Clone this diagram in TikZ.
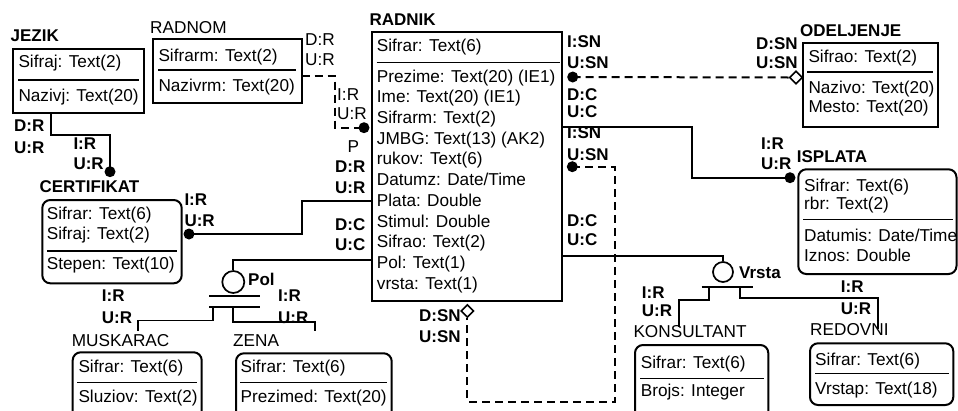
\documentclass[tikz,border=0pt]{standalone}
\usepackage{fontspec}
\setmainfont{Liberation Sans}
\usetikzlibrary{fit,shapes.geometric}
\tikzset{
 ebox/.style={draw, line width=2pt, inner sep=0pt},
 rbox/.style={ebox, rounded corners=8pt},
 tx/.style={anchor=base west, inner sep=0pt, font=\fontsize{17.2}{20}\selectfont},
 lb/.style={anchor=base west, inner sep=0pt, font=\fontsize{17}{20}\selectfont\bfseries},
 conn/.style={line width=1.7pt},
 dconn/.style={line width=2pt, dash pattern=on 8pt off 5pt},
 divl/.style={line width=1.6pt},
 dotc/.style={circle, fill, inner sep=0pt, minimum size=11pt},
 dia/.style={diamond, draw, fill=white, line width=1.6pt, inner sep=0pt, minimum width=13pt, minimum height=13pt},
 catc/.style={circle, draw, line width=1.7pt, inner sep=0pt},
}
\begin{document}
\begin{tikzpicture}[x=1pt,y=-1pt]
\useasboundingbox (0,0) rectangle (958,410);
\clip (0,0) rectangle (958,410);

% ---------- JEZIK
\node[lb] (tjezik) at (10.5,41.7) {JEZIK};
\node[ebox, fit={(12.7,49.3) (144,113.3)}] (jezik) {};
\draw[divl] (18,80) -- (139,80);
\node[tx] (j1) at (18.3,67.7) {Sifraj: Text(2)};
\node[tx] (j2) at (18.3,101) {Nazivj: Text(20)};

% ---------- RADNOM
\node[tx] (tradnom) at (150,33.3) {RADNOM};
\node[ebox, fit={(153,39.3) (301.7,102.7)}] (radnom) {};
\draw[divl] (158,70) -- (296,70);
\node[tx] (rm1) at (158.3,61) {Sifrarm: Text(2)};
\node[tx] (rm2) at (158.3,91) {Nazivrm: Text(20)};
\node[tx] (rmdr) at (305,45) {D:R};
\node[tx] (rmur) at (305,65) {U:R};

% ---------- RADNIK
\node[lb] (tradnik) at (369.3,25) {RADNIK};
\node[ebox, fit={(371.7,31.7) (562.3,300.7)}] (radnik) {};
\draw[divl] (376.7,62.3) -- (560,62.3);
\node[tx] (rk0) at (376.7,51) {Sifrar: Text(6)};
\foreach \s [count=\i] in {{Prezime: Text(20) (IE1)},{Ime: Text(20) (IE1)},{Sifrarm: Text(2)},{JMBG: Text(13) (AK2)},{rukov: Text(6)},{Datumz: Date/Time},{Plata: Double},{Stimul: Double},{Sifrao: Text(2)},{Pol: Text(1)},{vrsta: Text(1)}}
  \node[tx] (rk\i) at (376.7,{82+(\i-1)*20.73}) {\s};

% ---------- ODELJENJE
\node[lb] (todel) at (800,36) {ODELJENJE};
\node[ebox, fit={(802.7,42.7) (938.3,126.7)}] (odel) {};
\draw[divl] (807,72) -- (933,72);
\node[tx] (od1) at (808.3,62.7) {Sifrao: Text(2)};
\node[tx] (od2) at (808.3,93.3) {Nazivo: Text(20)};
\node[tx] (od3) at (808.3,112.7) {Mesto: Text(20)};
\node[lb] (oddsn) at (756,49.3) {D:SN};
\node[lb] (odusn) at (756,68.7) {U:SN};

% ---------- CERTIFIKAT
\node[lb] (tcert) at (39.3,192.7) {CERTIFIKAT};
\node[rbox, fit={(42.3,200) (181.7,283.3)}] (cert) {};
\draw[divl] (47,250.7) -- (177,250.7);
\node[tx] (ce1) at (46.7,219.3) {Sifrar: Text(6)};
\node[tx] (ce2) at (46.7,239.3) {Sifraj: Text(2)};
\node[tx] (ce3) at (46.7,269.3) {Stepen: Text(10)};
\node[lb] (ceir) at (184.3,205.3) {I:R};
\node[lb] (ceur) at (184.3,226) {U:R};

% ---------- ISPLATA
\node[lb] (tispl) at (796.7,162.7) {ISPLATA};
\node[rbox, fit={(798.3,169.3) (956.5,274)}] (ispl) {};
\draw[divl] (803,219.3) -- (953,219.3);
\node[tx] (is1) at (804,191) {Sifrar: Text(6)};
\node[tx] (is2) at (804,209.3) {rbr: Text(2)};
\node[tx] (is3) at (804,241) {Datumis: Date/Time};
\node[tx] (is4) at (804,261) {Iznos: Double};
\node[lb] (isir) at (761,149.3) {I:R};
\node[lb] (isur) at (761,169.3) {U:R};

% ---------- MUSKARAC
\node[tx] (tmusk) at (71.7,346) {MUSKARAC};
\node[rbox, fit={(72.7,352.3) (201.7,425)}] (musk) {};
\draw[divl] (77,382.3) -- (197,382.3);
\node[tx] (mu1) at (78.3,372.7) {Sifrar: Text(6)};
\node[tx] (mu2) at (78.3,402.7) {Sluziov: Text(2)};

% ---------- ZENA
\node[tx] (tzena) at (233,346) {ZENA};
\node[rbox, fit={(236,353.3) (391.7,425)}] (zena) {};
\draw[divl] (240,382.3) -- (387,382.3);
\node[tx] (ze1) at (240.5,372.7) {Sifrar: Text(6)};
\node[tx] (ze2) at (240.5,402.7) {Prezimed: Text(20)};

% ---------- KONSULTANT
\node[tx] (tkons) at (633.3,337.7) {KONSULTANT};
\node[rbox, fit={(635,345) (768.3,425)}] (kons) {};
\draw[divl] (640,378.3) -- (764,378.3);
\node[tx] (ko1) at (640.7,368.7) {Sifrar: Text(6)};
\node[tx] (ko2) at (640.7,396) {Brojs: Integer};

% ---------- REDOVNI
\node[tx] (tredo) at (810,335) {REDOVNI};
\node[rbox, fit={(810,343.3) (953.3,405)}] (redo) {};
\draw[divl] (815,373.3) -- (949,373.3);
\node[tx] (re1) at (815,365.3) {Sifrar: Text(6)};
\node[tx] (re2) at (815,394.3) {Vrstap: Text(18)};

% ---------- connectors
% JEZIK -> CERTIFIKAT
\coordinate (jzA) at (50.7,113.3);
\node[dotc] (dj) at (110,171.7) {};
\draw[conn] (jzA) |- (110,135) -- (dj.center);
\node[lb] (jzdr) at (14,131.7) {D:R};
\node[lb] (jzur) at (14,153.3) {U:R};
\node[lb] (jzir) at (73.3,149.3) {I:R};
\node[lb] (jzur2) at (73.3,169.3) {U:R};

% RADNOM -> RADNIK
\coordinate (rmA) at (301.7,76);
\node[dotc] (drm) at (364,127.7) {};
\draw[dconn] (rmA) -| (335,127.7) -- (drm.center);
\node[tx] (rkir) at (337,100) {I:R};
\node[tx] (rkur) at (337,119) {U:R};

% RADNIK -> CERTIFIKAT
\coordinate (rkP) at (371.7,200.7);
\node[dotc] (dce) at (189,234) {};
\draw[conn] (dce.center) -| (301.7,200.7) -- (rkP);
\node[tx] (rkp) at (347.3,152.7) {P};
\node[lb] (rkdr) at (335,172.7) {D:R};
\node[lb] (rkur2) at (335,193.3) {U:R};
\node[lb] (rkdc) at (335,230) {D:C};
\node[lb] (rkuc) at (335,250) {U:C};

% RADNIK -> ODELJENJE
\node[dotc] (dod) at (572.7,77) {};
\node[dia] (diaod) at (796,77.5) {};
\draw[dconn] (dod.center) -- (diaod.west);
\node[lb] (rkisn) at (567,47.7) {I:SN};
\node[lb] (rkusn) at (567,68.3) {U:SN};
\node[lb] (rkdc2) at (567,100) {D:C};
\node[lb] (rkuc2) at (567,117.7) {U:C};

% RADNIK -> ISPLATA
\coordinate (rkI) at (562.3,126.7);
\node[dotc] (dis) at (790,177.7) {};
\draw[conn] (rkI) -| (691.7,177.7) -- (dis.center);
\node[lb] (rkisn2) at (567,138.5) {I:SN};
\node[lb] (rkusn2) at (567,160) {U:SN};

% RADNIK recursive (rukov)
\node[dotc] (dself) at (572.3,166.7) {};
\node[dia] (diaself) at (467.3,311) {};
\draw[dconn] (dself.center) -| (615,401.7) -| (diaself.south);
\node[lb] (sdsn) at (419,321.7) {D:SN};
\node[lb] (susn) at (419,342.7) {U:SN};

% Pol category
\coordinate (rkPol) at (371.7,260);
\node[catc, minimum size=22pt] (pol) at (233.3,282) {};
\draw[conn] (rkPol) -| (pol.north);
\node[lb] (tpol) at (248,285) {Pol};
\draw[conn] (209,296) -- (260,296);
\draw[conn] (209,306.7) -- (260,306.7);
\coordinate (muskE) at (138.3,331);
\coordinate (zenaE) at (315,331);
\draw[conn] (213.3,306.7) |- (138.3,320.5) -- (muskE);
\draw[conn] (233.3,306.7) |- (315,322) -- (zenaE);
\node[lb] (pir1) at (101.7,301.7) {I:R};
\node[lb] (pur1) at (101.7,323.3) {U:R};
\node[lb] (pir2) at (278,301.7) {I:R};
\node[lb] (pur2) at (278,323.3) {U:R};

% Vrsta category
\coordinate (rkV) at (562.3,255.7);
\node[catc, minimum size=20pt] (vrsta) at (723,272) {};
\draw[conn] (rkV) -| (vrsta.north);
\node[lb] (tvrsta) at (739,278) {Vrsta};
\node[lb] (rkdc3) at (567,226.7) {D:C};
\node[lb] (rkuc3) at (567,245.7) {U:C};
\draw[conn] (701.7,286.7) -- (753.3,286.7);
\coordinate (konsE) at (679.3,326.5);
\coordinate (redoE) at (877.7,329);
\draw[conn] (709.3,286.7) |- (679.3,300) -- (konsE);
\draw[conn] (740,286.7) |- (877.7,297.7) -- (redoE);
\node[lb] (vir1) at (641.7,298.3) {I:R};
\node[lb] (vur1) at (641.7,316.7) {U:R};
\node[lb] (vir2) at (840.7,292.7) {I:R};
\node[lb] (vur2) at (840.7,314.3) {U:R};
\end{tikzpicture}
\end{document}
